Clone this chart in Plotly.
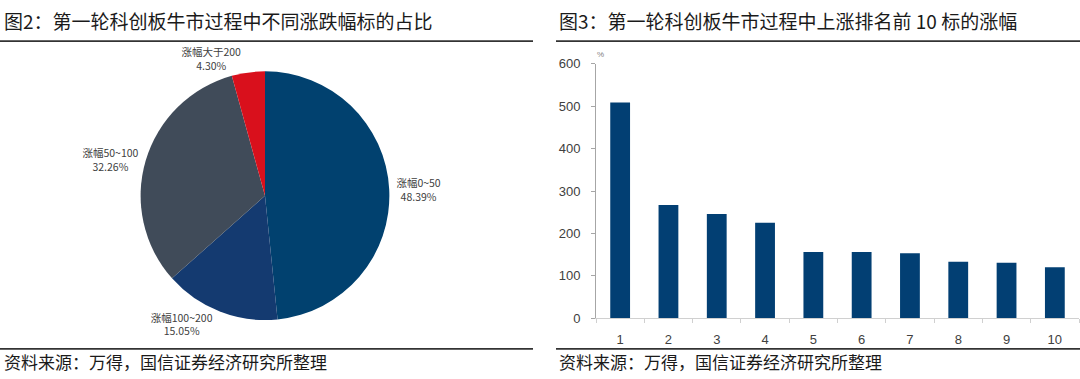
import plotly.graph_objects as go

# ---- data ----
pie_labels = ["涨幅0~50", "涨幅100~200", "涨幅50~100", "涨幅大于200"]
pie_values = [48.39, 15.05, 32.26, 4.30]
pie_colors = ["#01416f", "#143a70", "#404b59", "#d9101c"]

bar_categories = ["1", "2", "3", "4", "5", "6", "7", "8", "9", "10"]
bar_values = [509, 267, 246, 225, 156, 156, 153, 133, 131, 120]
bar_color = "#023f73"

title_left = "图2：第一轮科创板牛市过程中不同涨跌幅标的占比"
title_right = "图3：第一轮科创板牛市过程中上涨排名前 10 标的涨幅"
source_text = "资料来源：万得，国信证券经济研究所整理"

W, H = 1080, 379
CJK = "Noto Sans CJK SC"

def py(y):
    return (H - y) / H

fig = go.Figure()

fig.add_trace(go.Pie(
    labels=pie_labels, values=pie_values, sort=False, direction="clockwise",
    rotation=0, marker=dict(colors=pie_colors, line=dict(width=0)),
    textposition="outside", texttemplate="%{label}<br>%{percent:.2%}",
    textfont=dict(family=CJK, size=10.5, color="#404040"),
    domain=dict(x=[115 / W, 415 / W], y=[py(326), py(67)]),
    showlegend=False, hoverinfo="label+percent",
))

fig.add_trace(go.Bar(
    x=bar_categories, y=bar_values, marker=dict(color=bar_color, line=dict(width=0)),
    xaxis="x", yaxis="y", showlegend=False,
))

fig.update_layout(
    width=W, height=H, margin=dict(l=0, r=0, t=0, b=0),
    paper_bgcolor="white", plot_bgcolor="white",
    bargap=0.59,
    xaxis=dict(domain=[596 / W, 1079 / W], anchor="y", showline=True, linecolor="#d0d0d0",
               ticks="outside", tickson="boundaries", ticklen=4, tickcolor="#d0d0d0",
               ticklabelstandoff=9,
               showgrid=False, tickfont=dict(family="Liberation Sans", size=13, color="#404040")),
    yaxis=dict(domain=[py(324), py(59.2)], anchor="x", range=[0, 600], dtick=100,
               showline=True, linecolor="#a6a6a6", ticks="outside", ticklen=4,
               tickcolor="#a6a6a6", showgrid=False, zeroline=False, ticklabelstandoff=8,
               tickfont=dict(family="Liberation Sans", size=13, color="#404040")),
)

annots = [
    dict(text=title_left, x=2 / W, y=py(14), xanchor="left", yanchor="middle",
         font=dict(family=CJK, size=19, color="#1a1a1a")),
    dict(text=title_right, x=557 / W, y=py(14), xanchor="left", yanchor="middle",
         font=dict(family=CJK, size=19, color="#1a1a1a")),
    dict(text=source_text, x=2 / W, y=py(369), xanchor="left", yanchor="middle",
         font=dict(family=CJK, size=17, color="#1a1a1a")),
    dict(text=source_text, x=557 / W, y=py(369), xanchor="left", yanchor="middle",
         font=dict(family=CJK, size=17, color="#1a1a1a")),
    dict(text="%", x=600 / W, y=py(49), xanchor="center", yanchor="middle",
         font=dict(family="Liberation Sans", size=8, color="#7f7f7f")),
]
for a in annots:
    a.update(xref="paper", yref="paper", showarrow=False)
fig.update_layout(annotations=annots)

shapes = []
for (x0, x1) in [(0, 533), (556, 1080)]:
    for y in (35.5, 356):
        shapes.append(dict(type="line", xref="paper", yref="paper",
                           x0=x0 / W, x1=x1 / W, y0=py(y), y1=py(y),
                           line=dict(color="#333333", width=1.6)))
fig.update_layout(shapes=shapes)

fig.write_html("out.html", config={"displayModeBar": False},
               post_script="document.body.style.margin='0';document.body.style.overflow='hidden';")
